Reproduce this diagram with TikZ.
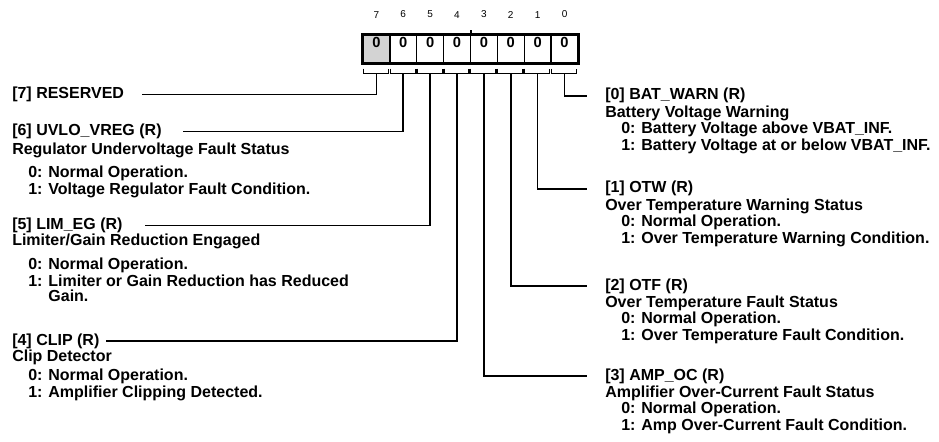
\documentclass[tikz,border=0pt]{standalone}
\usepackage{fontspec}
\setmainfont{Liberation Sans}
\usetikzlibrary{positioning}
\definecolor{regfill}{HTML}{D3D3D3}
\newcommand\fieldfont{\fontsize{12}{12.4}\selectfont\bfseries}

\begin{document}
\begin{tikzpicture}[x=0.75pt,y=-0.75pt,
    cell/.style={draw,line width=1pt,minimum width=20.16pt,minimum height=21pt,inner sep=0pt,
      font=\fontsize{11}{12}\selectfont\bfseries,text height=7.8pt,text depth=10.2pt},
    bitno/.style={inner sep=0pt,font=\fontsize{7.5}{9}\selectfont},
    brk/.style={line width=1pt},
    wire/.style={line width=1.2pt},
    head/.style={inner sep=0pt,anchor=base west,font=\fieldfont},
    desc/.style={inner sep=0pt,anchor=north west,align=left,font=\fieldfont}]
  \useasboundingbox (0,0) rectangle (939,442);
  % register cells, bit numbers and brackets
  \foreach \b [count=\k from 0] in {7,...,0} {
    \pgfmathtruncatemacro\shade{\b==7 ? 100 : 0}
    \node[cell,fill=regfill!\shade] (c\b) at (376.4+26.875*\k,49) {0};
    \node[bitno,above=12pt of c\b] (n\b) {\b};
    \draw[brk] ([shift={(1,5)}]c\b.south west) -- ++(0,5) -| ([shift={(-2,5)}]c\b.south east);
    \coordinate (t\b) at ([yshift=-7.5pt]c\b.south);
  }
  \draw[line width=1.5pt] (c7.north west) rectangle (c0.south east);
  \draw[wire] (c4.north east) -- ++(0,-4);

  % left fields
  \node[head] (h7) at (12,98.5) {[7] RESERVED};
  \node[head] (h6) at (12,135.5) {[6] UVLO\_VREG (R)};
  \node[below=2.5pt of h6.south west,desc] (d6) {Regulator Undervoltage Fault Status\\[5pt]
    \hspace*{12pt}0: Normal Operation.\\
    \hspace*{12pt}1: Voltage Regulator Fault Condition.};
  \node[head] (h5) at (12,229.5) {[5] LIM\_EG (R)};
  \node[below=0.3pt of h5.south west,desc] (d5) {Limiter/Gain Reduction Engaged\\[6pt]
    \hspace*{12pt}0: Normal Operation.\\
    \hspace*{12pt}1: Limiter or Gain Reduction has Reduced\\[-1pt]
    \hspace*{12pt}\phantom{1: }Gain.};
  \node[head] (h4) at (12,345) {[4] CLIP (R)};
  \node[below=0.5pt of h4.south west,desc] (d4) {Clip Detector\\[2.5pt]
    \hspace*{12pt}0: Normal Operation.\\
    \hspace*{12pt}1: Amplifier Clipping Detected.};

  % right fields
  \node[head] (h0) at (605,100) {[0] BAT\_WARN (R)};
  \node[below=1.4pt of h0.south west,desc] (d0) {Battery Voltage Warning\\
    \hspace*{12pt}0: Battery Voltage above VBAT\_INF.\\
    \hspace*{12pt}1: Battery Voltage at or below VBAT\_INF.};
  \node[head] (h1) at (605,193) {[1] OTW (R)};
  \node[below=1.4pt of h1.south west,desc] (d1) {Over Temperature Warning Status\\
    \hspace*{12pt}0: Normal Operation.\\
    \hspace*{12pt}1: Over Temperature Warning Condition.};
  \node[head] (h2) at (605,290) {[2] OTF (R)};
  \node[below=1.4pt of h2.south west,desc] (d2) {Over Temperature Fault Status\\
    \hspace*{12pt}0: Normal Operation.\\
    \hspace*{12pt}1: Over Temperature Fault Condition.};
  \node[head] (h3) at (605,380) {[3] AMP\_OC (R)};
  \node[below=1.4pt of h3.south west,desc] (d3) {Amplifier Over-Current Fault Status\\
    \hspace*{12pt}0: Normal Operation.\\
    \hspace*{12pt}1: Amp Over-Current Fault Condition.};

  % connectors
  \draw[wire,shorten >=13.5pt] (t7) |- (h7);
  \draw[wire,shorten >=16pt] (t6) |- (h6);
  \draw[wire,shorten >=17pt] (t5) |- (h5);
  \draw[wire,shorten >=5pt] (t4) |- (h4);
  \draw[wire,shorten >=13.5pt] (t3) |- (h3);
  \draw[wire,shorten >=13.5pt] (t2) |- (h2);
  \draw[wire,shorten >=13.5pt] (t1) |- (h1);
  \draw[wire,shorten >=13.5pt] (t0) |- (h0);
\end{tikzpicture}
\end{document}
